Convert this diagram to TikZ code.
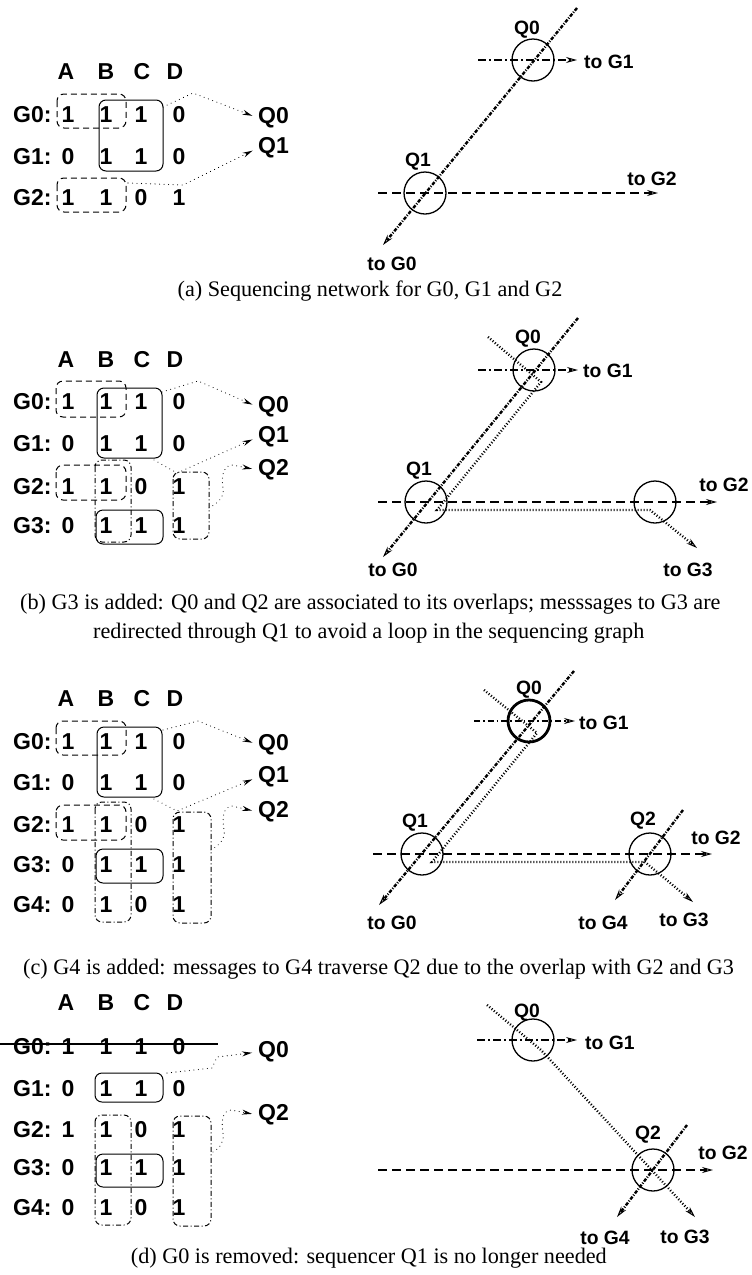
\documentclass[tikz,border=0pt]{standalone}
\usepackage{fontspec}
\setmainfont{Liberation Serif}
\setsansfont{Liberation Sans}
\usetikzlibrary{arrows.meta}

\tikzset{
  mlab/.style={font=\sffamily\bfseries\fontsize{23}{23}\selectfont, inner sep=0pt},
  glab/.style={font=\sffamily\bfseries\fontsize{19.3}{19.3}\selectfont, inner sep=0pt},
  capt/.style={font=\fontsize{22.2}{29}\selectfont, inner sep=0pt, anchor=base},
  dbox/.style={draw, line width=1pt, rounded corners=7pt, dash pattern=on 6pt off 4pt},
  sbox/.style={draw, line width=1pt, rounded corners=7pt},
  ddbox/.style={draw, line width=1pt, rounded corners=7pt, dash pattern=on 5pt off 2.5pt on 1pt off 2.5pt},
  mlink/.style={line width=1.1pt, line cap=round, dash pattern=on 0.01pt off 4.5pt,
                -{Stealth[length=10pt,width=5pt]}, shorten >=6pt},
  qc/.style={circle, draw, line width=1.3pt, minimum size=42pt, inner sep=0pt},
  gtip/.style={-{Stealth[open,length=11pt,width=6pt,line width=1pt]}},
  hdash/.style={line width=2.6pt, dash pattern=on 9pt off 5pt, gtip},
  diag/.style={line width=2.4pt, dash pattern=on 3.5pt off 1.5pt on 1pt off 1.5pt, gtip},
  hdd/.style={line width=2.2pt, dash pattern=on 8pt off 3pt on 2pt off 3pt, gtip},
  hddthin/.style={line width=1.1pt, dash pattern=on 6pt off 3pt on 1.5pt off 3pt, gtip},
  route/.style={line width=2.4pt, dash pattern=on 1pt off 2pt},
}

% column headers of a membership table
\newcommand\mhead[2]{%
  \node[mlab] (#1A) at (66,#2) {A};
  \node[mlab] (#1B) at (106,#2) {B};
  \node[mlab] (#1C) at (142,#2) {C};
  \node[mlab] (#1D) at (175,#2) {D};}
% one row of a membership table: name, y, group, four entries
\newcommand\mrow[7]{%
  \node[mlab, anchor=west] (#1l) at (13,#2) {#3};
  \node[mlab] (#1a) at (68,#2) {#4};
  \node[mlab] (#1b) at (106,#2) {#5};
  \node[mlab] (#1c) at (141,#2) {#6};
  \node[mlab] (#1d) at (179,#2) {#7};}

\begin{document}
\begin{tikzpicture}[x=1pt, y=-1pt]
\useasboundingbox (0,0) rectangle (752,1275);

% ================= (a) =================
\mhead{ha}{72}
\mrow{a0}{115}{G0:}{1}{1}{1}{0}
\mrow{a1}{157}{G1:}{0}{1}{1}{0}
\mrow{a2}{198}{G2:}{1}{1}{0}{1}
\draw[dbox] (57,94) rectangle (126,128);
\draw[sbox] (99,100) rectangle (163,171);
\draw[dbox] (57,178) rectangle (126,212);
\node[mlab, anchor=west] (ma-q0) at (258,118) {Q0};
\node[mlab, anchor=west] (ma-q1) at (258,148) {Q1};
\coordinate (ma-s0) at (163,107);
\coordinate (ma-s1) at (128,183);
\draw[mlink] (ma-s0) -- (193,93) -- (ma-q0.west);
\draw[mlink] (ma-s1) -- (183,185) -- (ma-q1.west);

\node[qc] (qa0) at (533,60) {};
\node[glab] (qa0t) at (527,30) {Q0};
\node[qc] (qa1) at (425,193) {};
\node[glab] (qa1t) at (418,162) {Q1};
\coordinate (a-hs) at (478,60);
\coordinate (a-he) at (577,60);
\node[glab, anchor=west] (a-g1) at (584,62) {to G1};
\draw[hdd] (a-hs) -- (a-he);
\coordinate (a-dt) at (577,8);
\coordinate (a-db) at (383,245);
\node[glab] (a-g0) at (392,264) {to G0};
\draw[diag] (a-dt) -- (a-db);
\coordinate (a-ls) at (378,193);
\coordinate (a-le) at (658,193);
\node[glab] (a-g2) at (652,179) {to G2};
\draw[hdash] (a-ls) -- (a-le);

\node[capt] (capa) at (370,296) {(a) Sequencing network for G0, G1 and G2};

% ================= (b) =================
\mhead{hb}{360}
\mrow{b0}{402}{G0:}{1}{1}{1}{0}
\mrow{b1}{444}{G1:}{0}{1}{1}{0}
\mrow{b2}{487}{G2:}{1}{1}{0}{1}
\mrow{b3}{526}{G3:}{0}{1}{1}{1}
\draw[dbox] (56,381) rectangle (126,417);
\draw[sbox] (97,388) rectangle (162,458);
\draw[dbox] (56,465) rectangle (126,500);
\draw[ddbox] (95,460) rectangle (131,542);
\draw[sbox] (96,510) rectangle (163,544);
\draw[ddbox] (173,472) rectangle (209,539);
\node[mlab, anchor=west] (mb-q0) at (258,407) {Q0};
\node[mlab, anchor=west] (mb-q1) at (258,437) {Q1};
\node[mlab, anchor=west] (mb-q2) at (258,470) {Q2};
\coordinate (mb-s0) at (162,392);
\coordinate (mb-s1) at (154,460);
\coordinate (mb-s2) at (209,508);
\draw[mlink] (mb-s0) -- (198,381) -- (mb-q0.west);
\draw[mlink] (mb-s1) -- (177,473) -- (mb-q1.west);
\draw[mlink] (mb-s2) to[out=30,in=-80] (223,488) to[out=100,in=185] (232,465) -- (mb-q2.west);

\node[qc] (qb0) at (534,370) {};
\node[glab] (qb0t) at (528,339) {Q0};
\node[qc] (qb1) at (426,502) {};
\node[glab] (qb1t) at (419,471) {Q1};
\node[qc] (qb2) at (655,502) {};
\coordinate (b-hs) at (478,370);
\coordinate (b-he) at (578,370);
\node[glab, anchor=west] (b-g1) at (583,371) {to G1};
\draw[hdd] (b-hs) -- (b-he);
\coordinate (b-dt) at (578,318);
\coordinate (b-db) at (383,557);
\node[glab] (b-g0) at (393,570) {to G0};
\draw[diag] (b-dt) -- (b-db);
\coordinate (b-ls) at (378,502);
\coordinate (b-le) at (717,502);
\node[glab] (b-g2) at (724,485) {to G2};
\draw[hdash] (b-ls) -- (b-le);
\coordinate (b-rs) at (488,337);
\coordinate (b-re) at (697,548);
\node[glab] (b-g3) at (688,570) {to G3};
\draw[route, gtip] (b-rs) -- (541,382) -- (437,510) -- (650,510) -- (b-re);

\node[capt, anchor=base west] (capb1) at (20,609)
  {(b) G3 is added: Q0 and Q2 are associated to its overlaps; messsages to G3 are};
\node[capt, anchor=base west] (capb2) at (93,638)
  {redirected through Q1 to avoid a loop in the sequencing graph};

% ================= (c) =================
\mhead{hc}{699}
\mrow{c0}{742}{G0:}{1}{1}{1}{0}
\mrow{c1}{783}{G1:}{0}{1}{1}{0}
\mrow{c2}{825}{G2:}{1}{1}{0}{1}
\mrow{c3}{865}{G3:}{0}{1}{1}{1}
\mrow{c4}{905}{G4:}{0}{1}{0}{1}
\draw[dbox] (56,721) rectangle (126,755);
\draw[sbox] (97,727) rectangle (162,797);
\draw[dbox] (56,805) rectangle (126,840);
\draw[ddbox] (95,802) rectangle (131,922);
\draw[sbox] (96,849) rectangle (163,883);
\draw[ddbox] (173,812) rectangle (211,923);
\node[mlab, anchor=west] (mc-q0) at (258,745) {Q0};
\node[mlab, anchor=west] (mc-q1) at (258,777) {Q1};
\node[mlab, anchor=west] (mc-q2) at (258,812) {Q2};
\coordinate (mc-s0) at (163,730);
\coordinate (mc-s1) at (154,799);
\coordinate (mc-s2) at (211,850);
\draw[mlink] (mc-s0) -- (198,721) -- (mc-q0.west);
\draw[mlink] (mc-s1) -- (177,811) -- (mc-q1.west);
\draw[mlink] (mc-s2) to[out=30,in=-80] (224,830) to[out=100,in=185] (232,806) -- (mc-q2.west);

\node[qc, line width=2.8pt] (qc0) at (529,721) {};
\node[glab] (qc0t) at (529,690) {Q0};
\node[qc] (qc1) at (422,854) {};
\node[glab] (qc1t) at (415,823) {Q1};
\node[qc] (qc2) at (650,854) {};
\node[glab] (qc2t) at (643,821) {Q2};
\coordinate (c-hs) at (474,721);
\coordinate (c-he) at (575,721);
\node[glab, anchor=west] (c-g1) at (579,723) {to G1};
\draw[hddthin] (c-hs) -- (c-he);
\coordinate (c-dt) at (574,671);
\coordinate (c-db) at (379,905);
\node[glab] (c-g0) at (392,923) {to G0};
\draw[diag] (c-dt) -- (c-db);
\coordinate (c-ls) at (373,854);
\coordinate (c-le) at (712,854);
\node[glab] (c-g2) at (716,838) {to G2};
\draw[hdash] (c-ls) -- (c-le);
\coordinate (c-rs) at (484,690);
\coordinate (c-re) at (693,902);
\node[glab] (c-g3) at (684,920) {to G3};
\draw[route, gtip] (c-rs) -- (537,733) -- (432,862) -- (645,862) -- (c-re);
\coordinate (c-qt) at (683,810);
\coordinate (c-qb) at (615,900);
\node[glab] (c-g4) at (603,923) {to G4};
\draw[diag] (c-qt) -- (c-qb);

\node[capt, anchor=base west] (capc) at (23,974)
  {(c) G4 is added: messages to G4 traverse Q2 due to the overlap with G2 and G3};

% ================= (d) =================
\mhead{hd}{1003}
\mrow{d0}{1047}{G0:}{1}{1}{1}{0}
\mrow{d1}{1089}{G1:}{0}{1}{1}{0}
\mrow{d2}{1130}{G2:}{1}{1}{0}{1}
\mrow{d3}{1168}{G3:}{0}{1}{1}{1}
\mrow{d4}{1208}{G4:}{0}{1}{0}{1}
\coordinate (d-xs) at (0,1044);
\coordinate (d-xe) at (218,1044);
\draw[line width=1.1pt] (d-xs) -- (d-xe);
\draw[sbox] (95,1073) rectangle (163,1102);
\draw[ddbox] (95,1115) rectangle (131,1225);
\draw[sbox] (96,1154) rectangle (163,1187);
\draw[ddbox] (173,1116) rectangle (211,1226);
\node[mlab, anchor=west] (md-q0) at (258,1052) {Q0};
\node[mlab, anchor=west] (md-q2) at (258,1115) {Q2};
\coordinate (md-s0) at (167,1073);
\coordinate (md-s2) at (213,1152);
\draw[mlink] (md-s0) -- (212,1068) -- (217,1057) -- (md-q0.west);
\draw[mlink] (md-s2) to[out=30,in=-80] (223,1133) to[out=100,in=185] (231,1110) -- (md-q2.west);

\node[qc] (qd0) at (533,1040) {};
\node[glab] (qd0t) at (527,1013) {Q0};
\node[qc] (qd2) at (653,1170) {};
\node[glab] (qd2t) at (648,1135) {Q2};
\coordinate (d-hs) at (477,1040);
\coordinate (d-he) at (577,1040);
\node[glab, anchor=west] (d-g1) at (585,1043) {to G1};
\draw[hdd] (d-hs) -- (d-he);
\coordinate (d-ls) at (378,1170);
\coordinate (d-le) at (713,1170);
\node[glab] (d-g2) at (723,1153) {to G2};
\draw[hdash] (d-ls) -- (d-le);
\coordinate (d-rs) at (487,1005);
\coordinate (d-re) at (695,1217);
\node[glab] (d-g3) at (685,1237) {to G3};
\draw[route, gtip] (d-rs) -- (541,1050) -- (d-re);
\coordinate (d-qt) at (687,1125);
\coordinate (d-qb) at (617,1217);
\node[glab] (d-g4) at (605,1238) {to G4};
\draw[diag] (d-qt) -- (d-qb);

\node[capt, anchor=base east] (capd) at (607,1263) {(d) G0 is removed: sequencer Q1 is no longer needed};
\end{tikzpicture}
\end{document}
